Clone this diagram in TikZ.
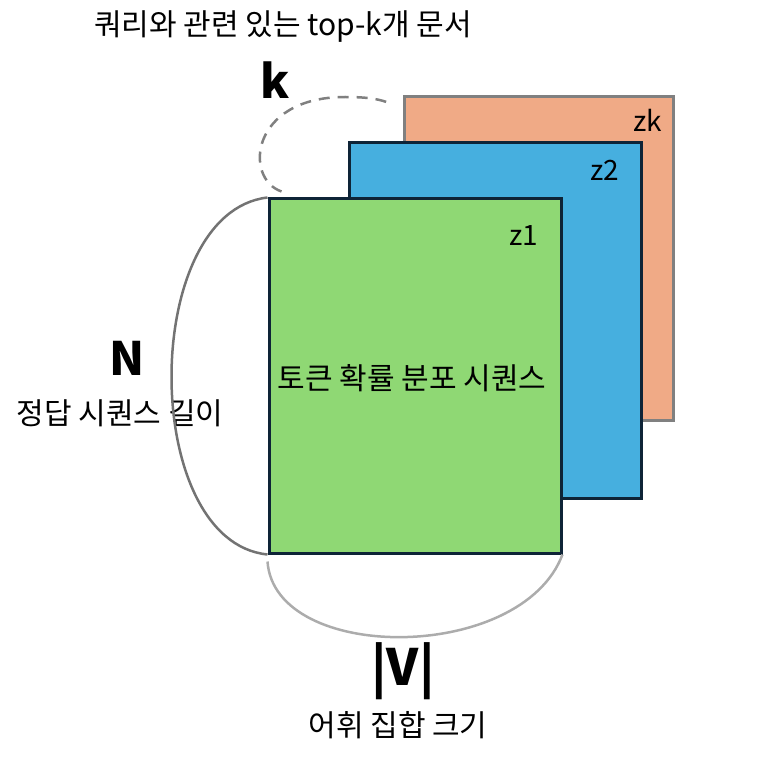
\documentclass[tikz,border=0pt]{standalone}
\usepackage{fontspec}
\setmainfont{Noto Sans CJK KR}
\usetikzlibrary{positioning}
\definecolor{docorange}{HTML}{F0AA86}
\definecolor{docblue}{HTML}{46AFDF}
\definecolor{docgreen}{HTML}{8FD874}
\definecolor{docnavy}{HTML}{0E2437}
\definecolor{docgray}{HTML}{808080}

\tikzset{
  docbox/.style={draw=docnavy, line width=3pt, inner sep=0pt},
  zlabel/.style={font=\fontsize{28}{32}\selectfont, inner sep=0pt},
  kotext/.style={font=\fontsize{30}{34}\selectfont, inner sep=0pt},
  dimtext/.style={font=\fontsize{46}{50}\selectfont\bfseries, inner sep=0pt},
  dimarc/.style={line width=2.5pt}
}

\begin{document}
\begin{tikzpicture}[x=1pt, y=-1pt]
  \useasboundingbox (0,0) rectangle (774,762);
  % stacked distributions z1 ... zk
  \node[docbox, draw=docgray, fill=docorange, minimum width=269pt, minimum height=323pt] (zk) at (538.5,258.5) {};
  \node[docbox, fill=docblue, minimum width=292pt, minimum height=355pt] (ztwo) at (495,320.5) {};
  \node[docbox, fill=docgreen, minimum width=292pt, minimum height=354pt] (zone) at (415,376) {};
  \node[zlabel] (zklabel) at (648,120) {zk};
  \node[zlabel] (ztwolabel) at (605,170) {z2};
  \node[zlabel] (zonelabel) at (524,236) {z1};
  \node[kotext] (seq) at (412,378) {토큰 확률 분포 시퀀스};

  % k : number of documents
  \node[kotext] (toptext) at (283,27) {쿼리와 관련 있는 top-k개 문서};
  \node[dimtext] (klabel) at (275,80) {k};
  \coordinate (kstart) at ([shift={(14,-6)}]zone.north west);
  \coordinate (ktop) at (345,97);
  \coordinate (kend) at ([shift={(-12,8)}]zk.north west);
  \draw[dimarc, docgray, dash pattern=on 11pt off 8pt]
    (kstart) .. controls +(-38,-13) and +(-95,0) .. (ktop)
    .. controls +(25,0) and +(-10,-4) .. (kend);

  % N : answer length
  \node[dimtext] (nlabel) at (127,358) {N};
  \node[kotext] (ntext) at (120,413) {정답 시퀀스 길이};
  \draw[dimarc, docgray!90!black] (zone.north west) .. controls +(-128,15) and +(-128,-13) .. (zone.south west);

  % |V| : vocabulary size
  \node[dimtext, font=\fontsize{50}{54}\selectfont\bfseries] (vlabel) at (403,671) {|V|};
  \node[kotext] (vtext) at (398,725) {어휘 집합 크기};
  \coordinate (vstart) at ([yshift=-7pt]zone.south west);
  \draw[dimarc, gray!65] (vstart) .. controls +(7,102) and +(-41,109) .. (zone.south east);
\end{tikzpicture}
\end{document}
